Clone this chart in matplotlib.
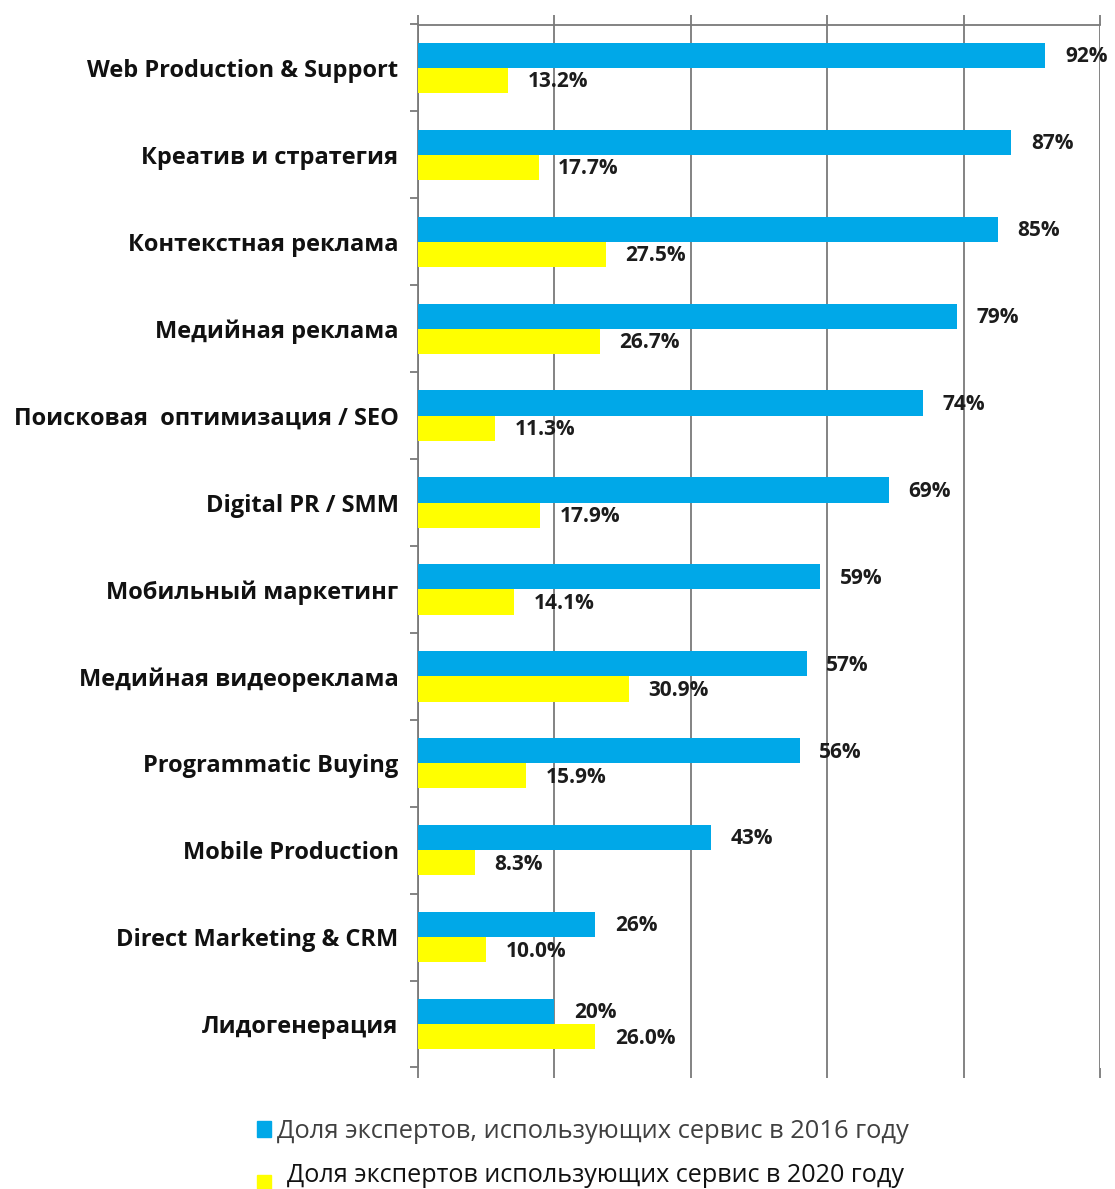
import matplotlib
matplotlib.use("Agg")
import matplotlib.pyplot as plt
import numpy as np
from matplotlib.patches import Rectangle

plt.rcParams['font.family'] = ['Open Sans', 'DejaVu Sans']

# услуги и доли экспертов (%)
services = [
    "Web Production & Support",
    "Креатив и стратегия",
    "Контекстная реклама",
    "Медийная реклама",
    "Поисковая  оптимизация / SEO",
    "Digital PR / SMM",
    "Мобильный маркетинг",
    "Медийная видеореклама",
    "Programmatic Buying",
    "Mobile Production",
    "Direct Marketing & CRM",
    "Лидогенерация",
]
share_2016 = [92, 87, 85, 79, 74, 69, 59, 57, 56, 43, 26, 20]
share_2020 = [13.2, 17.7, 27.5, 26.7, 11.3, 17.9, 14.1, 30.9, 15.9, 8.3, 10.0, 26.0]
legend_labels = [
    "Доля экспертов, использующих сервис в 2016 году",
    "Доля экспертов использующих сервис в 2020 году",
]

blue = "#00A8E8"
yellow = "#FFFF00"
grid_col = "#7a7a7a"

W, H = 1115, 1189
fig = plt.figure(figsize=(W / 100, H / 100), dpi=100)
ax = fig.add_axes([418 / W, 1 - 1067.5 / H, (1100 - 418) / W, (1067.5 - 24.5) / H])

n = len(services)
y = np.arange(n)
bh = 0.29

ax.barh(y - bh / 2, share_2016, height=bh, color=blue, zorder=3)
ax.barh(y + bh / 2, share_2020, height=bh, color=yellow, zorder=3)

for i in range(n):
    ax.annotate(f"{share_2016[i]}%", (share_2016[i], y[i] - bh / 2),
                xytext=(14, -1), textcoords="offset points", va="center", ha="left",
                fontsize=15, fontweight="bold", color="#1c1c1c", zorder=4)
    ax.annotate(f"{share_2020[i]:.1f}%", (share_2020[i], y[i] + bh / 2),
                xytext=(14, -1), textcoords="offset points", va="center", ha="left",
                fontsize=15, fontweight="bold", color="#1c1c1c", zorder=4)

ax.set_xlim(0, 100)
ax.set_ylim(n - 0.5, -0.5)

# вертикальная сетка с выступающими засечками сверху и снизу
ax.set_xticks([0, 20, 40, 60, 80, 100])
ax.xaxis.grid(True, color=grid_col, linewidth=1.3, zorder=0)
ax.tick_params(axis="x", which="both", top=True, bottom=True, labeltop=False,
               labelbottom=False, direction="out", length=7, color=grid_col, width=1.3)

ax.set_yticks(y)
ax.set_yticklabels(services, fontsize=17, fontweight="bold", color="#111111")
ax.set_yticks(np.arange(-0.5, n, 1), minor=True)
ax.tick_params(axis="y", which="major", length=0, pad=14)
ax.tick_params(axis="y", which="minor", length=6, color=grid_col, width=1.3, direction="out")

for side in ["bottom", "right"]:
    ax.spines[side].set_visible(False)
for side in ["top", "left"]:
    ax.spines[side].set_color(grid_col)
    ax.spines[side].set_linewidth(1.3)

# легенда внизу
fig.patches.append(Rectangle((257 / W, 1 - 1137 / H), 14 / W, 16 / H,
                             transform=fig.transFigure, color=blue, figure=fig))
fig.text(277 / W, 1 - 1131 / H, legend_labels[0], fontsize=18.4, color="#404040",
         va="center", ha="left")
fig.patches.append(Rectangle((257 / W, 0), 14 / W, 14 / H,
                             transform=fig.transFigure, color=yellow, figure=fig))
fig.text(287 / W, 1 - 1175 / H, legend_labels[1], fontsize=18.1, color="#111111",
         va="center", ha="left")

fig.savefig("out.png", dpi=100, facecolor="white")
